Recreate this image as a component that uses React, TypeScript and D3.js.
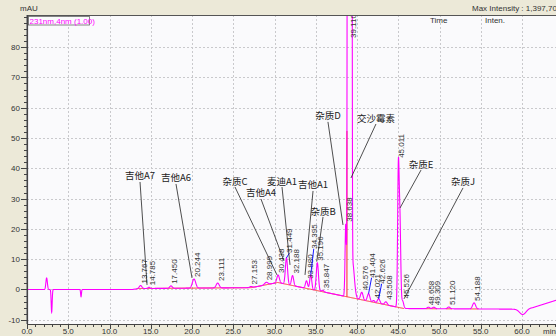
import React from "react";
import * as d3 from "d3";

const WIDTH = 556;
const HEIGHT = 336;
const PLOT = { left: 27, right: 556, top: 15, bottom: 324 };

// Integrated peaks: retention time (min), height above baseline (mAU), width (min), shape exponent
const peakTimes = [13.767, 14.785, 17.45, 20.244, 23.111, 27.153, 28.999, 30.438, 31.449, 32.188, 33.88, 34.395, 35.196, 35.847, 38.638, 39.11, 40.576, 41.404, 42.021, 42.626, 43.508, 45.011, 45.526, 48.658, 49.309, 51.12, 54.188];
const peakHeights = [1.0, 0.4, 0.8, 3.0, 1.6, 0.4, 0.8, 2.5, 8.7, 3.3, 2.5, 4.8, 9.2, 0.5, 24, 1397.7, 2.5, 2.5, 0.6, 1.5, 1.0, 44, 2.4, 0.5, 0.5, 0.6, 2.0];
const peakWidths = [0.15, 0.12, 0.15, 0.2, 0.18, 0.15, 0.2, 0.15, 0.13, 0.13, 0.13, 0.12, 0.13, 0.12, 0.085, 0.205, 0.15, 0.15, 0.12, 0.15, 0.15, 0.09, 0.13, 0.15, 0.15, 0.15, 0.18];
const peakShapes = [2, 2, 2, 2, 2, 2, 2, 2, 2, 2, 2, 2, 2, 2, 2, 4, 2, 2, 2, 2, 2, 2, 2, 2, 2, 2, 2];
// Extra raise of a retention-time label above its apex (mAU); raised labels get a blue leader
const labelLift = [0, 0, 0, 0, 0, 0, 0, 0, 1, 0, 0, 7.9, 0, 0, 0, 0, 0, 4.6, 0, 4.3, 0, 0, 0, 0, 0, 0, 0];

// Unlabelled features: injection disturbance, main-peak tail, 45 min shoulder, end-of-run dip
const featureTimes = [2.38, 2.99, 6.55, 39.45, 45.2, 60.1];
const featureHeights = [3.8, -7.5, -2.4, 12, 28, -2.0];
const featureWidths = [0.09, 0.06, 0.05, 0.22, 0.1, 0.4];

// Baseline drift knots (min, mAU)
const driftTimes = [0, 12.8, 13.5, 27.2, 30.4, 45.7, 59.0, 61.3, 64.2];
const driftValues = [0, 0, 0.3, 0.6, 2.3, -6.3, -6.5, -6.0, -3.5];

// Integration baseline segments (min)
const baselineStarts = [13.3, 48.3, 50.8, 53.7];
const baselineEnds = [45.7, 49.7, 51.5, 54.7];
// Drop lines between merged peaks (min)
const dropTimes = [31.82, 38.78];

// Compound annotations: label centre and leader end (min, mAU)
const compoundNames = ["吉他A7", "吉他A6", "杂质C", "吉他A4", "麦迪A1", "吉他A1", "杂质B", "杂质D", "交沙霉素", "杂质E", "杂质J"];
const nameTimes = [13.7, 18.06, 25.21, 28.36, 30.91, 34.67, 35.88, 36.48, 42.3, 47.76, 52.85];
const nameValues = [37.46, 36.8, 35.8, 31.85, 35.8, 34.5, 25.9, 57.3, 56.6, 41.4, 35.5];
const leaderTimes = [14.55, 20.0, 30.3, 31.15, 31.88, 33.7, 35.12, 38.3, 39.27, 45.21, 45.7];
const leaderValues = [1.5, 3.8, 4.8, 9.4, 8.1, 4.8, 9.2, 21.3, 36.8, 26.9, -3.1];

// Axis ticks
const xMajorTicks = d3.range(0, 61, 5);
const xMinorTicks = d3.range(0, 65, 1);
const yMajorTicks = d3.range(-10, 81, 10);
const yMinorTicks = d3.range(-10, 91, 2);

const NUM_FONT = "'Liberation Sans', Arial, sans-serif";
const CJK_FONT = "'Noto Sans CJK SC', sans-serif";
const BEIGE = "#ECE9D8";
const TEXT = "#333333";

export default function App() {
  const x = d3.scaleLinear().domain([0, 64.12]).range([PLOT.left, PLOT.right]);
  const y = d3.scaleLinear().domain([-11.4, 90.6]).range([PLOT.bottom, PLOT.top]);
  const drift = d3.scaleLinear().domain(driftTimes).range(driftValues).clamp(true);

  const signal = (t: number) => {
    let v = drift(t);
    for (let i = 0; i < peakTimes.length; i++) {
      const d = Math.abs((t - peakTimes[i]) / peakWidths[i]);
      v += peakHeights[i] * Math.exp(-0.5 * Math.pow(d, peakShapes[i]));
    }
    for (let i = 0; i < featureTimes.length; i++) {
      const d = (t - featureTimes[i]) / featureWidths[i];
      v += featureHeights[i] * Math.exp(-0.5 * d * d);
    }
    return v;
  };

  const times = d3.range(0, 64.2, 0.01);
  const traceLine = d3
    .line<number>()
    .x((t) => x(t))
    .y((t) => Math.max(-500, y(signal(t))));
  const driftLine = d3
    .line<number>()
    .x((t) => x(t))
    .y((t) => y(drift(t)));

  const plotW = PLOT.right - PLOT.left;
  const plotH = PLOT.bottom - PLOT.top;

  return (
    <svg
      width={WIDTH}
      height={HEIGHT}
      style={{ position: "absolute", left: 0, top: 0, display: "block" }}
      xmlns="http://www.w3.org/2000/svg"
    >
      <defs>
        <clipPath id="plot-clip">
          <rect x={PLOT.left} y={PLOT.top} width={plotW} height={plotH} />
        </clipPath>
      </defs>
      <rect x={0} y={0} width={WIDTH} height={HEIGHT} fill={BEIGE} />
      <rect x={PLOT.left} y={PLOT.top} width={plotW} height={plotH} fill="#FAFAFC" />

      {/* grid */}
      <g stroke="#C9C9CC" strokeWidth={1} strokeDasharray="2,2">
        {xMajorTicks.filter((t) => t > 0).map((t) => (
          <line key={"gx" + t} x1={Math.round(x(t)) + 0.5} x2={Math.round(x(t)) + 0.5} y1={PLOT.top} y2={PLOT.bottom} />
        ))}
        {yMajorTicks.map((v) => (
          <line key={"gy" + v} x1={PLOT.left} x2={PLOT.right} y1={Math.round(y(v)) + 0.5} y2={Math.round(y(v)) + 0.5} />
        ))}
      </g>

      {/* header */}
      <text x={20} y={11} fontFamily={NUM_FONT} fontSize={8} fill={TEXT}>mAU</text>
      <text x={472} y={11} fontFamily={NUM_FONT} fontSize={8} fill={TEXT}>Max Intensity : 1,397,70</text>
      <text x={430} y={23} fontFamily={NUM_FONT} fontSize={8} fill={TEXT}>Time</text>
      <text x={485} y={23} fontFamily={NUM_FONT} fontSize={8} fill={TEXT}>Inten.</text>

      {/* trace, baseline and integration marks */}
      <g clipPath="url(#plot-clip)">
        {baselineStarts.map((s, i) => (
          <path
            key={"bl" + i}
            d={driftLine(times.filter((t) => t >= s && t <= baselineEnds[i])) || ""}
            fill="none"
            stroke="#FF2020"
            strokeWidth={1}
          />
        ))}
        {dropTimes.map((t) => (
          <line key={"dr" + t} x1={x(t)} x2={x(t)} y1={y(drift(t))} y2={y(signal(t))} stroke="#FF2020" strokeWidth={1} />
        ))}
        <path d={traceLine(times) || ""} fill="none" stroke="#FF00FF" strokeWidth={1.1} />

        {/* retention-time labels */}
        {peakTimes.map((t, i) => {
          const px = x(t);
          const apexY = y(signal(t));
          const lift = y(0) - y(labelLift[i]);
          const by = Math.max(apexY - 2 - lift, 38);
          const bx = px + 6;
          return (
            <g key={"pl" + i}>
              {labelLift[i] > 0 && (
                <line x1={px} y1={apexY} x2={px + 3} y2={by} stroke="#0000FF" strokeWidth={0.9} />
              )}
              <text
                transform={`translate(${bx},${by}) rotate(-90)`}
                fontFamily={NUM_FONT}
                fontSize={8}
                fill={TEXT}
              >
                {t.toFixed(3)}
              </text>
            </g>
          );
        })}

        {/* compound annotations */}
        {compoundNames.map((name, i) => {
          const cx = x(nameTimes[i]);
          const cy = y(nameValues[i]);
          return (
            <g key={"cn" + i}>
              <line x1={cx} y1={cy + 6} x2={x(leaderTimes[i])} y2={y(leaderValues[i])} stroke="#222" strokeWidth={0.8} />
              <text x={cx} y={cy + 3.5} textAnchor="middle" fontFamily={CJK_FONT} fontSize={9.5} fill="#222">
                {name}
              </text>
            </g>
          );
        })}
      </g>

      {/* channel caption */}
      <rect x={28.5} y={16.5} width={61} height={8.5} fill="#FAFAFC" stroke="#666" strokeWidth={0.8} />
      <text x={29.5} y={23.5} fontFamily={NUM_FONT} fontSize={8} fill="#FF00FF">231nm,4nm (1.00)</text>

      {/* frame and axes */}
      <line x1={PLOT.left} x2={PLOT.right} y1={PLOT.top + 0.5} y2={PLOT.top + 0.5} stroke="#555" strokeWidth={1} />
      <line x1={PLOT.left - 0.5} x2={PLOT.left - 0.5} y1={PLOT.top} y2={PLOT.bottom} stroke="#A0A0A0" strokeWidth={1} />
      <line x1={PLOT.left + 0.5} x2={PLOT.left + 0.5} y1={PLOT.top} y2={PLOT.bottom} stroke="#444" strokeWidth={1.2} />
      <line x1={PLOT.left} x2={PLOT.right} y1={PLOT.bottom + 0.5} y2={PLOT.bottom + 0.5} stroke="#444" strokeWidth={1} />

      <g stroke="#444" strokeWidth={1}>
        {yMinorTicks.map((v) => (
          <line key={"ym" + v} x1={PLOT.left - 3} x2={PLOT.left} y1={Math.round(y(v)) + 0.5} y2={Math.round(y(v)) + 0.5} />
        ))}
        {yMajorTicks.map((v) => (
          <line key={"yM" + v} x1={PLOT.left - 6} x2={PLOT.left} y1={Math.round(y(v)) + 0.5} y2={Math.round(y(v)) + 0.5} />
        ))}
        {xMinorTicks.map((t) => (
          <line key={"xm" + t} x1={Math.round(x(t)) + 0.5} x2={Math.round(x(t)) + 0.5} y1={PLOT.bottom} y2={PLOT.bottom + 3} />
        ))}
        {xMajorTicks.map((t) => (
          <line key={"xM" + t} x1={Math.round(x(t)) + 0.5} x2={Math.round(x(t)) + 0.5} y1={PLOT.bottom} y2={PLOT.bottom + 5} />
        ))}
      </g>
      {yMajorTicks.map((v) => (
        <text key={"yl" + v} x={PLOT.left - 7} y={y(v) + 3} textAnchor="end" fontFamily={NUM_FONT} fontSize={8} fill={TEXT}>
          {v}
        </text>
      ))}
      {xMajorTicks.map((t) => (
        <text key={"xl" + t} x={x(t)} y={334} textAnchor="middle" fontFamily={NUM_FONT} fontSize={8} fill={TEXT}>
          {t.toFixed(1)}
        </text>
      ))}
      <text x={543} y={334} fontFamily={NUM_FONT} fontSize={8} fill={TEXT}>min</text>
    </svg>
  );
}
